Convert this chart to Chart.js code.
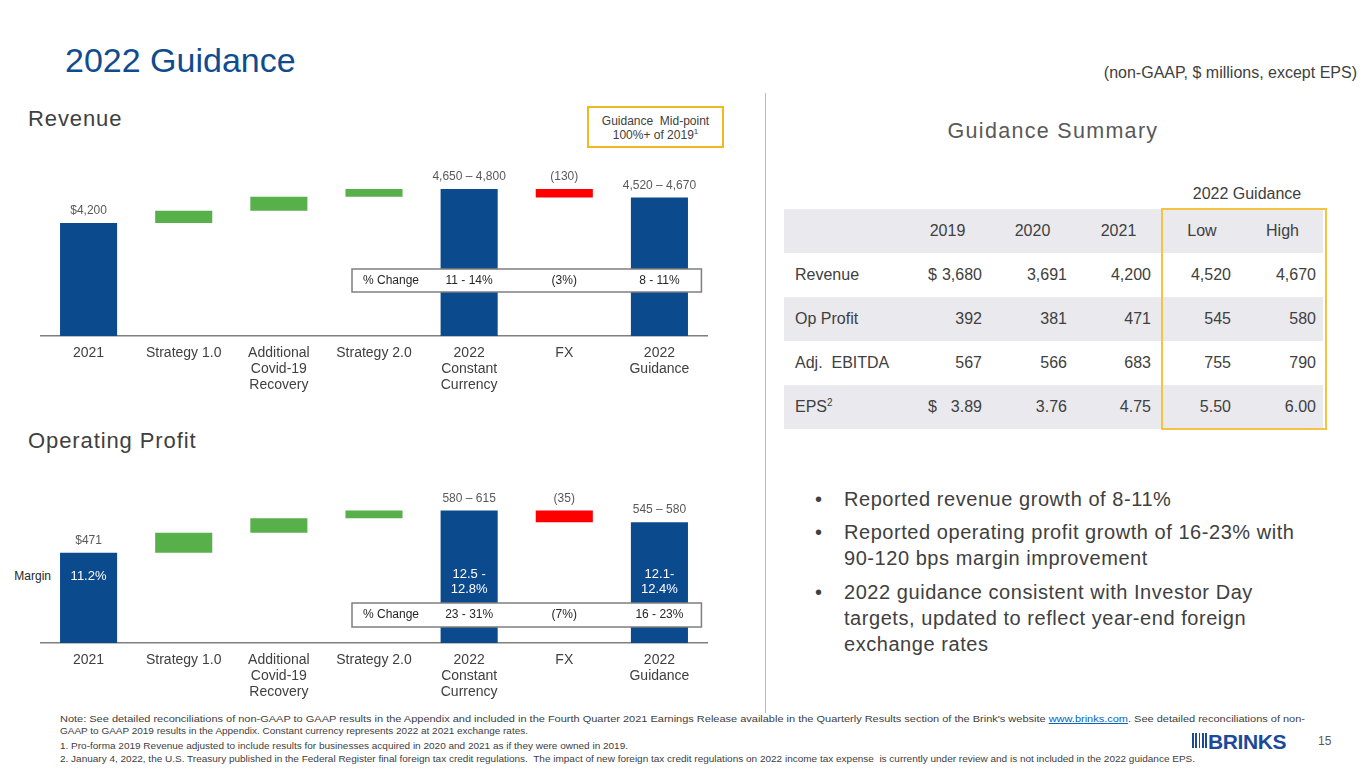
<!DOCTYPE html>
<html><head><meta charset="utf-8">
<script src="https://cdn.jsdelivr.net/npm/chart.js@4.4.1/dist/chart.umd.min.js"></script>
<style>
body{margin:0;width:1365px;height:768px;position:relative;overflow:hidden;background:#fff;font-family:"Liberation Sans",Arial,sans-serif;color:#404040}
.abs{position:absolute;white-space:nowrap;line-height:1}
canvas{position:absolute;left:0}
#summary{position:absolute;left:784px;top:209px;width:539px;border-collapse:collapse;table-layout:fixed;font-size:16px;color:#404040}
#summary td{height:44px;padding:0;vertical-align:middle;position:relative;line-height:18px}
#summary tr.g td{background:#E9E9EE}
.bul{position:absolute;left:815px;font-size:20px;line-height:26px;color:#404040;white-space:nowrap;letter-spacing:0.55px}
.bul span.d{position:absolute;left:0;font-size:20px}
.bul div{padding-left:29px}
.note{position:absolute;left:60px;font-size:9.5px;line-height:12px;color:#404040;white-space:nowrap;transform-origin:0 0}
.note a{color:#0563C1;text-decoration:underline}
</style></head><body>

<div class="abs" style="left:65px;top:43px;font-size:34px;color:#0F4C8F">2022 Guidance</div>
<div class="abs" style="right:8px;top:65px;font-size:16px;color:#404040">(non-GAAP, $ millions, except EPS)</div>

<div class="abs" style="left:28px;top:108px;font-size:22px;color:#404040;letter-spacing:0.9px">Revenue</div>
<div class="abs" style="left:28px;top:430px;font-size:22px;color:#404040;letter-spacing:0.9px">Operating Profit</div>

<div class="abs" style="left:587px;top:106px;width:133px;height:38px;border:2px solid #F2B824;font-size:12px;line-height:14px;text-align:center;color:#404040;padding-top:0px">
<div style="margin-top:6px">Guidance&nbsp; Mid-point</div><div>100%+ of 2019<sup style="font-size:8px;line-height:0">1</sup></div></div>

<div class="abs" style="left:0;width:51px;top:570px;font-size:12px;line-height:12px;text-align:right;color:#262626">Margin</div>

<canvas id="rev" width="720" height="246" style="top:150px;width:720px;height:246px"></canvas>
<canvas id="op" width="720" height="243" style="top:460px;width:720px;height:243px"></canvas>

<div class="abs" style="left:765px;top:93px;width:1px;height:620px;background:#9DC3E6"></div>

<div class="abs" style="left:903px;width:300px;text-align:center;top:121px;font-size:21.5px;color:#595959;letter-spacing:1.3px">Guidance Summary</div>
<div class="abs" style="left:1147px;width:200px;text-align:center;top:186px;font-size:16px;color:#404040">2022 Guidance</div>

<table id="summary"></table>
<div class="abs" style="left:1161px;top:208px;width:162px;height:218px;border:2px solid #F5C242"></div>

<div class="bul" style="top:486px"><span class="d">•</span><div>Reported revenue growth of 8-11%</div></div>
<div class="bul" style="top:519px"><span class="d">•</span><div>Reported operating profit growth of 16-23% with<br>90-120 bps margin improvement</div></div>
<div class="bul" style="top:579px"><span class="d">•</span><div>2022 guidance consistent with Investor Day<br>targets, updated to reflect year-end foreign<br>exchange rates</div></div>

<div class="note" data-w="1245" style="top:713px">Note: See detailed reconciliations of non-GAAP to GAAP results in the Appendix and included in the Fourth Quarter 2021 Earnings Release available in the Quarterly Results section of the Brink's website <a>www.brinks.com</a>. See detailed reconciliations of non-</div>
<div class="note" data-w="468" style="top:725px">GAAP to GAAP 2019 results in the Appendix. Constant currency represents 2022 at 2021 exchange rates.</div>
<div class="note" data-w="568" style="top:740px">1. Pro-forma 2019 Revenue adjusted to include results for businesses acquired in 2020 and 2021 as if they were owned in 2019.</div>
<div class="note" data-w="1135" style="top:753px">2. January 4, 2022, the U.S. Treasury published in the Federal Register final foreign tax credit regulations.&nbsp; The impact of new foreign tax credit regulations on 2022 income tax expense&nbsp; is currently under review and is not included in the 2022 guidance EPS.</div>

<div class="abs" style="left:1192px;top:733px;width:16px;height:15px;background:repeating-linear-gradient(90deg,#1B4A9A 0 1.8px,transparent 1.8px 3.3px)"></div>
<div class="abs" style="left:1208px;top:731px;font-size:21px;font-weight:bold;color:#1B4A9A;letter-spacing:-0.4px">BRINKS</div>
<div class="abs" style="left:1318px;top:735px;font-size:12px;color:#595959">15</div>

<script>
// ---- chart data ----
const categories = [['2021'],['Strategy 1.0'],['Additional','Covid-19','Recovery'],['Strategy 2.0'],['2022','Constant','Currency'],['FX'],['2022','Guidance']];
const revenueSteps = [4200, 190, 215, 120, null, -130, null];   // null = subtotal bar
const revenueLabels = ['$4,200','','','','4,650 – 4,800','(130)','4,520 – 4,670'];
const revenueChange = ['','','','','11 - 14%','(3%)','8 - 11%'];
const revenueAxis = [2450, 5020];
const profitSteps = [471, 60, 43, 23.5, null, -35, null];
const profitLabels = ['$471','','','','580 – 615','(35)','545 – 580'];
const profitMargins = [['11.2%'],[],[],[],['12.5 -','12.8%'],[],['12.1-','12.4%']];
const profitChange = ['','','','','23 - 31%','(7%)','16 - 23%'];
const profitAxis = [200, 689];
// ---- table data ----
const tableHeads = ['2019','2020','2021','Low','High'];
const tableRows = ['Revenue','Op Profit','Adj.&nbsp; EBITDA','EPS<sup style="font-size:10px;line-height:0">2</sup>'];
const tableValues = [
  ['3,680','3,691','4,200','4,520','4,670'],
  ['392','381','471','545','580'],
  ['567','566','683','755','790'],
  ['3.89','3.76','4.75','5.50','6.00']
];
const tableDollar = [true,false,false,true];

// table build
(function(){
  const widths=[121,85,85,87,80,81], pr=[0,8,8,11,11,7];
  let h='<colgroup>'+widths.map(w=>'<col style="width:'+w+'px">').join('')+'</colgroup>';
  h+='<tr class="g"><td></td>'+tableHeads.map(t=>'<td style="text-align:center">'+t+'</td>').join('')+'</tr>';
  tableRows.forEach((r,i)=>{
    h+='<tr class="'+(i%2===1?'g':'')+'"><td style="padding-left:11px">'+r+'</td>';
    tableValues[i].forEach((v,j)=>{
      const d=(j===0&&tableDollar[i])?'<span style="position:absolute;left:23px">$</span>':'';
      h+='<td style="text-align:right;padding-right:'+pr[j+1]+'px">'+d+v+'</td>';
    });
    h+='</tr>';
  });
  document.getElementById('summary').innerHTML=h;
})();

// fit note lines
document.querySelectorAll('.note').forEach(n=>{
  const w=n.getBoundingClientRect().width; const t=+n.dataset.w;
  n.style.transform='scaleX('+(t/w)+')';
});

const BLUE='#0C4A8E', GREEN='#58B04A', RED='#FF0000';
function waterfall(steps, base){
  let run=0; const bars=[], colors=[];
  steps.forEach((s,i)=>{
    if(i===0){run=s; bars.push([base,run]); colors.push(BLUE);}
    else if(s===null){bars.push([base,run]); colors.push(BLUE);}
    else {bars.push([run,run+s]); run+=s; colors.push(s>=0?GREEN:RED);}
  });
  return {bars,colors};
}
const FONT='"Liberation Sans", Arial, sans-serif';
Chart.defaults.font.family=FONT;

const overlay={
  id:'overlay',
  afterDatasetsDraw(chart,args,o){
    const ctx=chart.ctx, meta=chart.getDatasetMeta(0), area=chart.chartArea;
    ctx.save();
    ctx.textAlign='center'; ctx.textBaseline='middle';
    ctx.font='12px '+FONT; ctx.fillStyle='#595959';
    o.top.forEach((t,i)=>{ if(!t) return; const el=meta.data[i]; const top=Math.min(el.y,el.base); ctx.fillText(t,el.x,top-12); });
    if(o.inside){
      ctx.font='13px '+FONT; ctx.fillStyle='#ffffff';
      o.inside.forEach((lines,i)=>{ const el=meta.data[i]; const y0=area.bottom-(lines.length===1?67:69);
        lines.forEach((l,k)=>ctx.fillText(l,el.x,y0+k*15)); });
    }
    const x0=meta.data[3].x-22, x1=meta.data[6].x+42;
    const y0=area.bottom+o.box[0], y1=area.bottom+o.box[1];
    ctx.fillStyle='#ffffff'; ctx.fillRect(x0,y0,x1-x0,y1-y0);
    ctx.strokeStyle='#7F7F7F'; ctx.lineWidth=1.5; ctx.strokeRect(x0,y0,x1-x0,y1-y0);
    const ym=(y0+y1)/2;
    ctx.font='12px '+FONT; ctx.fillStyle='#262626';
    ctx.textAlign='left'; ctx.fillText('% Change',x0+11,ym);
    ctx.textAlign='center';
    o.change.forEach((t,i)=>{ if(!t) return; ctx.fillText(t,meta.data[i].x,ym); });
    ctx.restore();
  }
};

function build(id, steps, axis, top, inside, change, box){
  const w=waterfall(steps, axis[0]);
  new Chart(document.getElementById(id),{
    type:'bar',
    data:{labels:categories,datasets:[{data:w.bars,backgroundColor:w.colors,borderWidth:0,barPercentage:0.6,categoryPercentage:1}]},
    options:{
      responsive:false,animation:false,events:[],
      layout:{padding:{left:41,right:13,top:20,bottom:0}},
      plugins:{legend:{display:false},tooltip:{enabled:false},overlay:{top,inside,change,box}},
      scales:{
        x:{grid:{display:false,drawTicks:false},border:{display:true,color:'#7F7F7F',width:1.5},
           ticks:{color:'#404040',font:{size:14,lineHeight:1.15},padding:9,maxRotation:0,autoSkip:false},
           afterFit(s){s.height=60;}},
        y:{display:false,min:axis[0],max:axis[1]}
      }
    },
    plugins:[overlay]
  });
}
build('rev', revenueSteps, revenueAxis, revenueLabels, null, revenueChange, [-67,-44]);
build('op', profitSteps, profitAxis, profitLabels, profitMargins, profitChange, [-40,-16]);
</script>
</body></html>
